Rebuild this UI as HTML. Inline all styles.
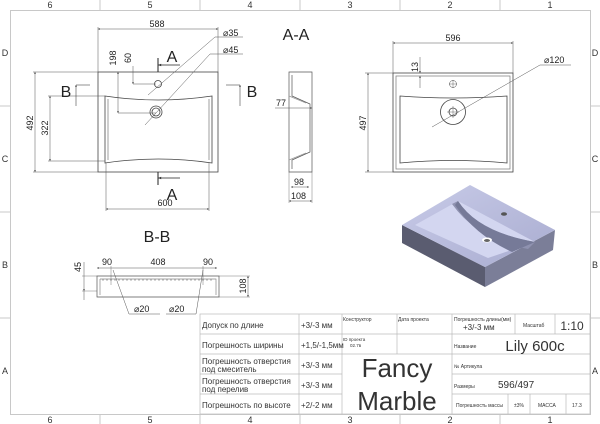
<!DOCTYPE html>
<html><head><meta charset="utf-8"><style>
html,body{margin:0;padding:0;background:#fff;}
svg{display:block;font-family:"Liberation Sans",sans-serif;}
.t{font-family:"Liberation Sans","Noto Sans CJK SC",sans-serif;}
</style></head><body>
<svg width="600" height="424" viewBox="0 0 600 424" xmlns="http://www.w3.org/2000/svg">
<defs>
<marker id="a" viewBox="0 0 10 10" refX="10" refY="5" markerWidth="6" markerHeight="4" orient="auto-start-reverse"><path d="M0,1 L10,5 L0,9z" fill="#333"/></marker>
<linearGradient id="g1" x1="0" y1="0" x2="1" y2="1"><stop offset="0" stop-color="#c8cbe8"/><stop offset="1" stop-color="#a9acd0"/></linearGradient>
</defs>
<rect width="600" height="424" fill="#fff"/>
<!-- frame -->
<g stroke="#c8c8c8" fill="none" stroke-width="1">
<rect x="10.5" y="10.5" width="580" height="404"/>
<line x1="100" y1="0" x2="100" y2="10"/><line x1="200" y1="0" x2="200" y2="10"/><line x1="300" y1="0" x2="300" y2="10"/><line x1="400" y1="0" x2="400" y2="10"/><line x1="500" y1="0" x2="500" y2="10"/>
<line x1="100" y1="414" x2="100" y2="424"/><line x1="200" y1="414" x2="200" y2="424"/><line x1="300" y1="414" x2="300" y2="424"/><line x1="400" y1="414" x2="400" y2="424"/><line x1="500" y1="414" x2="500" y2="424"/>
<line x1="0" y1="106" x2="10" y2="106"/><line x1="0" y1="212" x2="10" y2="212"/><line x1="0" y1="318" x2="10" y2="318"/>
<line x1="590" y1="106" x2="600" y2="106"/><line x1="590" y1="212" x2="600" y2="212"/><line x1="590" y1="318" x2="600" y2="318"/>
</g>
<g font-size="9" fill="#333" text-anchor="middle">
<text x="50" y="8">6</text><text x="150" y="8">5</text><text x="250" y="8">4</text><text x="350" y="8">3</text><text x="450" y="8">2</text><text x="550" y="8">1</text>
<text x="50" y="423">6</text><text x="150" y="423">5</text><text x="250" y="423">4</text><text x="350" y="423">3</text><text x="450" y="423">2</text><text x="550" y="423">1</text>
<text x="5" y="56">D</text><text x="5" y="162">C</text><text x="5" y="268">B</text><text x="5" y="374">A</text>
<text x="595" y="56">D</text><text x="595" y="162">C</text><text x="595" y="268">B</text><text x="595" y="374">A</text>
</g>

<!-- main top view -->
<g stroke="#444" fill="none" stroke-width="0.8">
<rect x="98" y="72" width="120" height="100"/>
<path d="M105,96 Q158,104 212,96 L212,163 Q158,155 105,163 Z"/>
<path d="M108,99 L108,160 M209,99 L209,160" stroke="#888"/>
<circle cx="158" cy="84" r="3.5"/><circle cx="156" cy="112" r="6"/><circle cx="156" cy="112" r="4"/>
</g>
<g stroke="#555" stroke-width="0.5" fill="none">
<line x1="98" y1="27" x2="98" y2="72"/><line x1="218" y1="27" x2="218" y2="72"/>
<line x1="98" y1="29" x2="218" y2="29" marker-start="url(#a)" marker-end="url(#a)"/>
<line x1="106" y1="163" x2="106" y2="211"/><line x1="209" y1="163" x2="209" y2="211"/>
<line x1="106" y1="209" x2="209" y2="209" marker-start="url(#a)" marker-end="url(#a)"/>
<line x1="33" y1="72" x2="98" y2="72"/><line x1="33" y1="172" x2="98" y2="172"/>
<line x1="35" y1="72" x2="35" y2="172" marker-start="url(#a)" marker-end="url(#a)"/>
<line x1="48" y1="96" x2="105" y2="96"/><line x1="48" y1="161" x2="105" y2="161"/>
<line x1="50" y1="96" x2="50" y2="161" marker-start="url(#a)" marker-end="url(#a)"/>
<line x1="118" y1="72" x2="118" y2="113" marker-start="url(#a)" marker-end="url(#a)"/><line x1="118" y1="113" x2="156" y2="113"/>
<line x1="133" y1="66" x2="133" y2="84" marker-end="url(#a)"/><line x1="133" y1="84" x2="156" y2="84"/>
<line x1="148" y1="95" x2="215" y2="37"/><line x1="215" y1="37" x2="243" y2="37"/>
<line x1="145" y1="125" x2="210" y2="54"/><line x1="210" y1="54" x2="243" y2="54"/>
<line x1="158" y1="58" x2="158" y2="72" stroke="#222" stroke-width="1"/>
<line x1="158" y1="65" x2="180" y2="65" stroke="#222" stroke-width="0.8" marker-start="url(#a)"/>
<line x1="158" y1="172" x2="158" y2="185" stroke="#222" stroke-width="1"/>
<line x1="158" y1="178" x2="180" y2="178" stroke="#222" stroke-width="0.8" marker-start="url(#a)"/>
<line x1="76" y1="85" x2="90" y2="85" stroke="#222"/><line x1="76" y1="85" x2="76" y2="106" stroke="#222" marker-start="url(#a)"/>
<line x1="226" y1="85" x2="240" y2="85" stroke="#222"/><line x1="240" y1="85" x2="240" y2="106" stroke="#222" marker-start="url(#a)"/>
</g>
<g fill="#222" font-size="9">
<text x="157" y="27" text-anchor="middle">588</text>
<text x="165" y="206" text-anchor="middle">600</text>
<text x="223" y="36">⌀35</text><text x="223" y="53">⌀45</text>
<text transform="translate(33,123) rotate(-90)" text-anchor="middle">492</text>
<text transform="translate(48,128) rotate(-90)" text-anchor="middle">322</text>
<text transform="translate(116,58) rotate(-90)" text-anchor="middle">198</text>
<text transform="translate(131,58) rotate(-90)" text-anchor="middle">60</text>
<text x="172" y="62" font-size="16" text-anchor="middle">A</text>
<text x="172" y="200" font-size="16" text-anchor="middle">A</text>
<text x="66" y="97" font-size="16" text-anchor="middle">B</text>
<text x="252" y="97" font-size="16" text-anchor="middle">B</text>
<text x="296" y="40" font-size="16" text-anchor="middle">A-A</text>
</g>

<!-- side section A-A -->
<g stroke="#555" fill="none" stroke-width="0.7">
<path d="M289,72 L312,72 L312,172 L289,172 Z"/>
<path d="M292,75 L292,96 L310,104 L310,152 L292,160 L292,169" />
<path d="M289,96 L306,103 M289,160 L306,153" stroke="#999"/>
<line x1="275" y1="108" x2="312" y2="108" stroke-width="0.5" marker-end="url(#a)"/>
<line x1="289" y1="172" x2="289" y2="203" stroke-width="0.4"/><line x1="312" y1="172" x2="312" y2="203" stroke-width="0.4"/>
<line x1="291" y1="187" x2="309" y2="187" stroke-width="0.5" marker-start="url(#a)" marker-end="url(#a)"/>
<line x1="289" y1="201" x2="312" y2="201" stroke-width="0.5" marker-start="url(#a)" marker-end="url(#a)"/>
</g>
<g fill="#222" font-size="9">
<text x="276" y="106">77</text><text x="294" y="185">98</text><text x="291" y="199">108</text>
</g>

<!-- right view -->
<g stroke="#444" fill="none" stroke-width="0.8">
<rect x="393" y="73" width="120" height="99"/>
<rect x="396" y="76" width="114" height="93" stroke="#888"/>
<path d="M400,96 Q453,100 507,96 L507,163 Q453,158 400,163 Z"/>
<circle cx="453" cy="84" r="3.5" stroke-width="0.5"/><path d="M449,84 h8 M453,80 v8" stroke-width="0.4"/>
<circle cx="453" cy="112" r="12.5"/><circle cx="453" cy="112" r="4"/><path d="M447,112 h12 M453,106 v12" stroke-width="0.4"/>
</g>
<g stroke="#555" stroke-width="0.5" fill="none">
<line x1="393" y1="41" x2="393" y2="73"/><line x1="513" y1="41" x2="513" y2="73"/>
<line x1="393" y1="43" x2="513" y2="43" marker-start="url(#a)" marker-end="url(#a)"/>
<line x1="365" y1="73" x2="393" y2="73"/><line x1="365" y1="172" x2="393" y2="172"/>
<line x1="368" y1="73" x2="368" y2="172" marker-start="url(#a)" marker-end="url(#a)"/>
<line x1="420" y1="57" x2="420" y2="73" marker-end="url(#a)"/><line x1="420" y1="76" x2="420" y2="88" marker-start="url(#a)"/>
<line x1="432" y1="127" x2="540" y2="65"/><line x1="540" y1="65" x2="571" y2="65"/>
</g>
<g fill="#222" font-size="9">
<text x="453" y="41" text-anchor="middle">596</text>
<text x="544" y="63">⌀120</text>
<text transform="translate(366,123) rotate(-90)" text-anchor="middle">497</text>
<text transform="translate(418,67) rotate(-90)" text-anchor="middle">13</text>
</g>

<!-- 3D -->
<g>
<path d="M402,225 L485,267 L485,287 L402,243 Z" fill="#5a5c70"/>
<path d="M485,267 L555,230 L553,250 L485,287 Z" fill="#7b7e98"/>
<path d="M402,225 L470,185 L555,230 L485,267 Z" fill="url(#g1)"/>
<path d="M415,225 L458,201 L535,242 L488,258 Z" fill="#d3d6f0"/>
<path d="M458,201 Q478,232 535,242 L528,249 Q478,240 452,204 Z" fill="#8f92b0"/>
<path d="M458,201 Q478,232 535,242 L512,252 Q475,235 455,205 Z" fill="#767a98"/>
<ellipse cx="487" cy="240" rx="5" ry="2.5" fill="#fff"/><ellipse cx="487" cy="240.5" rx="3" ry="1.5" fill="#666"/>
<ellipse cx="504" cy="214" rx="3" ry="1.8" fill="#555"/>
</g>

<!-- B-B -->
<text x="157" y="242" font-size="16" fill="#222" text-anchor="middle">B-B</text>
<g stroke="#555" fill="none" stroke-width="0.7">
<path d="M97,276 L219,276 L219,297 L97,297 Z"/>
<path d="M100,279 L216,279 L216,295 M100,279 L100,295" stroke="#888"/>
<line x1="102" y1="280" x2="214" y2="280" stroke-dasharray="2,2" stroke="#999"/>
<line x1="82" y1="276" x2="97" y2="276" stroke-width="0.4"/><line x1="82" y1="291" x2="97" y2="291" stroke-width="0.4"/>
<line x1="84" y1="262" x2="84" y2="291" stroke-width="0.5" marker-end="url(#a)"/><line x1="84" y1="291" x2="84" y2="300" stroke-width="0.5"/>
<line x1="219" y1="276" x2="250" y2="276" stroke-width="0.4"/><line x1="219" y1="297" x2="250" y2="297" stroke-width="0.4"/>
<line x1="248" y1="276" x2="248" y2="297" stroke-width="0.5" marker-start="url(#a)" marker-end="url(#a)"/>
<line x1="97" y1="268" x2="217" y2="268" stroke-width="0.5" marker-start="url(#a)" marker-end="url(#a)"/>
<line x1="111" y1="266" x2="111" y2="285" stroke-width="0.4"/><line x1="203" y1="266" x2="203" y2="285" stroke-width="0.4"/>
<line x1="113" y1="270" x2="129" y2="314" stroke-width="0.5"/><line x1="129" y1="314" x2="160" y2="314" stroke-width="0.5"/>
<line x1="203" y1="270" x2="196" y2="314" stroke-width="0.5"/><line x1="196" y1="314" x2="166" y2="314" stroke-width="0.5"/>
</g>
<g fill="#222" font-size="9">
<text x="107" y="265" text-anchor="middle">90</text><text x="158" y="265" text-anchor="middle">408</text><text x="208" y="265" text-anchor="middle">90</text>
<text transform="translate(81,267) rotate(-90)" text-anchor="middle">45</text>
<text transform="translate(246,286) rotate(-90)" text-anchor="middle">108</text>
<text x="134" y="312">⌀20</text><text x="169" y="312">⌀20</text>
</g>

<!-- title block -->
<g stroke="#bbb" stroke-width="0.7" fill="none">
<rect x="200" y="314" width="390" height="100"/>
<line x1="200" y1="334" x2="590" y2="334"/>
<line x1="200" y1="354" x2="342" y2="354"/>
<line x1="200" y1="374" x2="342" y2="374"/>
<line x1="200" y1="394" x2="342" y2="394"/>
<line x1="452" y1="354" x2="590" y2="354"/><line x1="452" y1="374" x2="590" y2="374"/><line x1="452" y1="394" x2="590" y2="394"/>
<line x1="342" y1="354" x2="452" y2="354"/>
<line x1="299" y1="314" x2="299" y2="414"/>
<line x1="342" y1="314" x2="342" y2="414"/>
<line x1="397" y1="314" x2="397" y2="354"/>
<line x1="452" y1="314" x2="452" y2="414"/>
<line x1="555" y1="314" x2="555" y2="334"/><line x1="515" y1="314" x2="515" y2="334"/>
<line x1="508" y1="394" x2="508" y2="414"/><line x1="530" y1="394" x2="530" y2="414"/><line x1="566" y1="394" x2="566" y2="414"/>
</g>
<g class="t" fill="#333">
<text x="202" y="328" font-size="8">Допуск по длине</text>
<text x="202" y="348" font-size="8">Погрешность ширины</text>
<text x="202" y="364" font-size="8">Погрешность отверстия</text><text x="202" y="372" font-size="8">под смеситель</text>
<text x="202" y="384" font-size="8">Погрешность отверстия</text><text x="202" y="392" font-size="8">под перелив</text>
<text x="202" y="408" font-size="8">Погрешность по высоте</text>
<text x="301" y="328" font-size="8">+3/-3 мм</text>
<text x="301" y="348" font-size="8">+1,5/-1,5мм</text>
<text x="301" y="368" font-size="8">+3/-3 мм</text>
<text x="301" y="388" font-size="8">+3/-3 мм</text>
<text x="301" y="408" font-size="8">+2/-2 мм</text>
<text x="343" y="321" font-size="5">Конструктор</text>
<text x="398" y="321" font-size="5">Дата проекта</text>
<text x="343" y="341" font-size="4.5">ID проекта</text><text x="350" y="347" font-size="4.5">02.7в</text>
<text x="397" y="377" font-size="26" text-anchor="middle">Fancy</text>
<text x="397" y="410" font-size="26" text-anchor="middle">Marble</text>
<text x="454" y="321" font-size="5">Погрешность длины(мм)</text>
<text x="463" y="330" font-size="8">+3/-3 мм</text>
<text x="523" y="327" font-size="5">Масштаб</text>
<text x="572" y="330" font-size="12" text-anchor="middle">1:10</text>
<text x="454" y="348" font-size="5">Название</text>
<text x="535" y="351" font-size="15" text-anchor="middle">Lily 600c</text>
<text x="454" y="368" font-size="5">№ Артикула</text>
<text x="454" y="388" font-size="5">Размеры</text>
<text x="498" y="388" font-size="10">596/497</text>
<text x="456" y="407" font-size="5">Погрешность массы</text>
<text x="514" y="407" font-size="5">±3%</text>
<text x="538" y="407" font-size="5">МАССА</text>
<text x="572" y="407" font-size="5">17.3</text>
</g>
</svg>
</body></html>
